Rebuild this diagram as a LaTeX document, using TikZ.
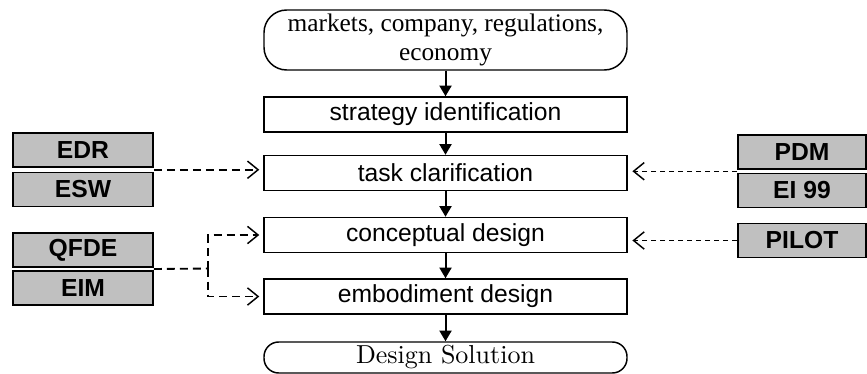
\documentclass[tikz,border=0pt]{standalone}
\usepackage{fontspec}
\setsansfont{Liberation Sans}
\newfontfamily\timesfont{Liberation Serif}
\usetikzlibrary{arrows.meta,calc}
\definecolor{toolgray}{RGB}{192,192,192}
\begin{document}
\begin{tikzpicture}[x=0.75pt,y=-0.75pt,
  stagebox/.style={draw, line width=1.1pt, minimum width=272.25pt, minimum height=26.25pt,
    inner sep=0pt, font=\sffamily\fontsize{18.5}{21}\selectfont},
  endbox/.style={draw, line width=1.1pt, minimum width=272.25pt, inner sep=0pt, align=center},
  toolbox/.style={draw, line width=1.4pt, fill=toolgray, minimum height=25.5pt, inner sep=0pt,
    font=\sffamily\bfseries\fontsize{18.5}{21}\selectfont},
  flow/.style={line width=1.5pt, -{Triangle[length=8pt,width=9pt]}},
  linkL/.style={line width=1.4pt, dash pattern=on 6pt off 3.75pt,
    -{Straight Barb[length=8pt,width=13pt,line width=1.1pt]}, shorten >=3pt},
  linkR/.style={line width=1.1pt, dash pattern=on 3.75pt off 3pt,
    -{Straight Barb[length=8pt,width=13pt,line width=1.1pt]}, shorten >=3.5pt},
  plain/.style={line width=1.4pt, dash pattern=on 6pt off 3.75pt}
]
\useasboundingbox (0,0) rectangle (867,374);

% main process column
\node[endbox, rounded corners=17pt, minimum height=45pt,
      font=\timesfont\fontsize{19}{21.5}\selectfont] (ctx) at (445.5,40)
      {markets, company, regulations,\\economy};
\node[stagebox] (strat) at (445.5,114.5) {strategy identification};
\node[stagebox] (task)  at (445.5,173)   {task clarification};
\node[stagebox] (conc)  at (445.5,235)   {conceptual design};
\node[stagebox] (embod) at (445.5,296.5) {embodiment design};
\node[endbox, rounded corners=11pt, minimum height=23.25pt,
      font=\fontsize{10}{12}\selectfont] (sol) at (445.5,357.5)
      {\scalebox{1.95}{Design Solution}};

\draw[flow] (ctx.south)   -- (strat.north);
\draw[flow] (strat.south) -- (task.north);
\draw[flow] (task.south)  -- (conc.north);
\draw[flow] (conc.south)  -- (embod.north);
\draw[flow] (embod.south) -- (sol.north);

% tools on the left
\node[toolbox, minimum width=105pt] (edr)  at (83,150)   {EDR};
\node[toolbox, minimum width=105pt] (esw)  at (83,189.5) {ESW};
\node[toolbox, minimum width=105pt] (qfde) at (83,250)   {QFDE};
\node[toolbox, minimum width=105pt] (eim)  at (83,288)   {EIM};

% tools on the right
\node[toolbox, minimum width=96pt] (pdm)   at (802,152)   {PDM};
\node[toolbox, minimum width=96pt] (ei)    at (802,190.5) {EI 99};
\node[toolbox, minimum width=96pt] (pilot) at (802,240.5) {PILOT};

% tool links
\coordinate (jl1) at ($(edr.south east)!0.5!(esw.north east)$);
\coordinate (jl2) at ($(qfde.south east)!0.5!(eim.north east)$);
\coordinate (fork) at (208,268.5);
\coordinate (jr1) at ($(pdm.south west)!0.5!(ei.north west)$);

\draw[linkL] (jl1) -- (jl1 -| task.west);
\draw[plain] (jl2) -- (fork);
\draw[linkL] (fork) |- (conc.west);
\draw[linkL] (fork) |- (embod.west);

\draw[linkR] (jr1) -- (jr1 -| task.east);
\draw[linkR] (pilot.west) -- (pilot.west -| conc.east);
\end{tikzpicture}
\end{document}
